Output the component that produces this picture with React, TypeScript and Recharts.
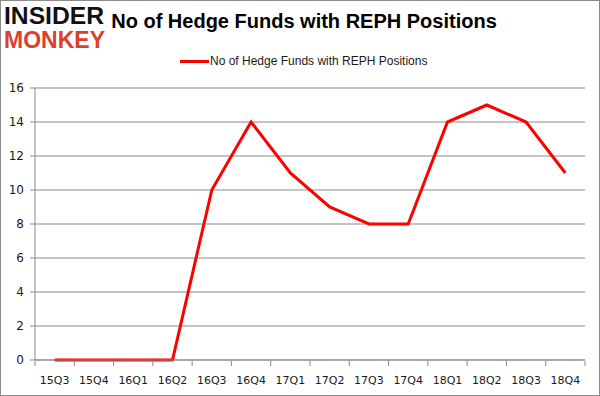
import React from "react";
import { LineChart, Line, XAxis, YAxis, CartesianGrid } from "recharts";

// quarters on the x axis
const quarters = [
  "15Q3", "15Q4", "16Q1", "16Q2", "16Q3", "16Q4", "17Q1",
  "17Q2", "17Q3", "17Q4", "18Q1", "18Q2", "18Q3", "18Q4",
];

// number of hedge funds holding REPH
const fundCounts = [0, 0, 0, 0, 10, 14, 11, 9, 8, 8, 14, 15, 14, 11];

const yTicks = [0, 2, 4, 6, 8, 10, 12, 14, 16];

const SERIES_NAME = "No of Hedge Funds with REPH Positions";

const W = 600;
const H = 396;
const PLOT_LEFT = 35;
const PLOT_RIGHT = 585;
const PLOT_TOP = 88;
const PLOT_BOTTOM = 360;
const HALF_BAND = (PLOT_RIGHT - PLOT_LEFT) / quarters.length / 2;
const GRID = "#898989";

const data = quarters.map((q, i) => ({ quarter: q, funds: fundCounts[i] }));

// Excel-style tick: label at the category centre, tick marks on boundaries
function QuarterTick(props: any) {
  const { x, payload, index } = props;
  const last = index === quarters.length - 1;
  return (
    <g>
      <line x1={x - HALF_BAND} x2={x - HALF_BAND} y1={PLOT_BOTTOM} y2={PLOT_BOTTOM + 5} stroke={GRID} />
      {last && (
        <line x1={x + HALF_BAND} x2={x + HALF_BAND} y1={PLOT_BOTTOM} y2={PLOT_BOTTOM + 5} stroke={GRID} />
      )}
      <text
        x={x}
        y={PLOT_BOTTOM + 23}
        textAnchor="middle"
        fontSize={11}
        fontFamily="DejaVu Sans"
        fill="#1a1a1a"
      >
        {payload.value}
      </text>
    </g>
  );
}

export default function App() {
  return (
    <div
      style={{
        position: "absolute",
        left: 0,
        top: 0,
        width: W,
        height: H,
        background: "#fff",
        boxSizing: "border-box",
        border: "1px solid #8c8c8c",
      }}
    >
      <svg width={110} height={58} style={{ position: "absolute", left: 0, top: 0 }}>
        <text
          x={3}
          y={23}
          fontFamily="Liberation Sans"
          fontWeight={900}
          fontSize={23}
          textLength={100}
          lengthAdjust="spacingAndGlyphs"
          fill="#111"
        >
          INSIDER
        </text>
        <text
          x={3}
          y={47}
          fontFamily="Liberation Sans"
          fontWeight={900}
          fontSize={23}
          textLength={101}
          lengthAdjust="spacingAndGlyphs"
          fill="#d9412e"
        >
          MONKEY
        </text>
      </svg>
      <div
        style={{
          position: "absolute",
          left: 0,
          top: 9,
          width: W,
          paddingLeft: 6,
          boxSizing: "border-box",
          textAlign: "center",
          fontFamily: "Liberation Sans",
          fontWeight: 700,
          fontSize: 20,
          color: "#000",
        }}
      >
        {SERIES_NAME}
      </div>
      <div
        style={{
          position: "absolute",
          left: 179,
          top: 53,
          display: "flex",
          alignItems: "center",
          fontFamily: "Liberation Sans",
          fontSize: 12,
          color: "#1a1a1a",
        }}
      >
        <span style={{ display: "inline-block", width: 29, height: 3, background: "#ff0000", marginRight: 1 }} />
        {SERIES_NAME}
      </div>
      <LineChart
        width={W - 2}
        height={H - 2}
        data={data}
        margin={{ top: PLOT_TOP - 1, right: W - PLOT_RIGHT - 1, bottom: 0, left: 0 }}
        style={{ position: "absolute", left: 0, top: 0 }}
      >
        <CartesianGrid vertical={false} stroke={GRID} strokeDasharray="" />
        <XAxis
          dataKey="quarter"
          padding={{ left: HALF_BAND, right: HALF_BAND }}
          height={H - 1 - PLOT_BOTTOM}
          axisLine={{ stroke: GRID }}
          tickLine={false}
          interval={0}
          tick={<QuarterTick />}
        />
        <YAxis
          width={PLOT_LEFT - 1}
          domain={[0, 16]}
          ticks={yTicks}
          interval={0}
          axisLine={{ stroke: GRID }}
          tickLine={{ stroke: GRID }}
          tickSize={5}
          tickMargin={6}
          tick={{ fontSize: 12, fontFamily: "DejaVu Sans", fill: "#1a1a1a" }}
        />
        <Line
          type="linear"
          dataKey="funds"
          name={SERIES_NAME}
          stroke="#ff0000"
          strokeWidth={3}
          dot={false}
          isAnimationActive={false}
        />
      </LineChart>
    </div>
  );
}
